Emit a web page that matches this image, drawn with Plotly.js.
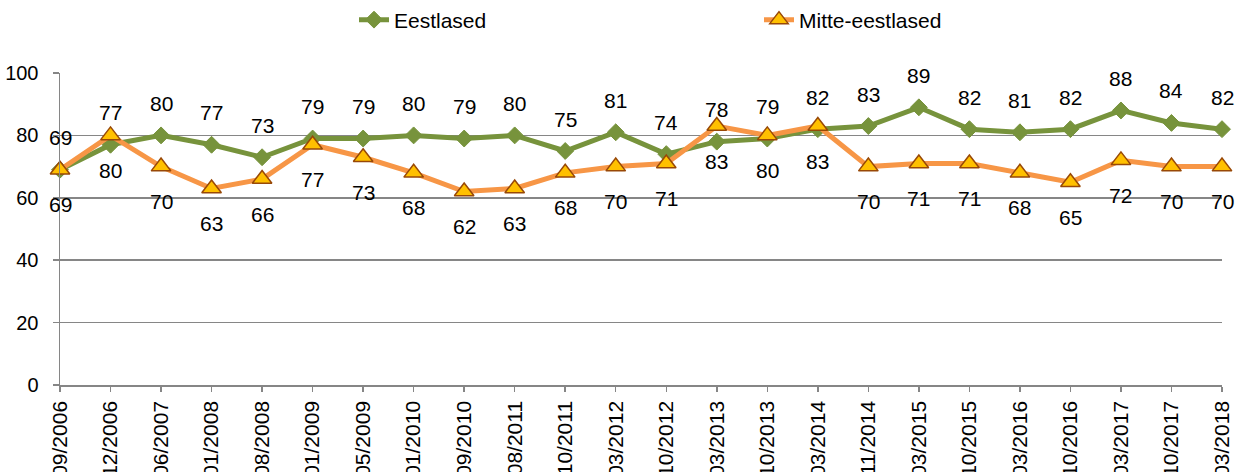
<!DOCTYPE html>
<html>
<head>
<meta charset="utf-8">
<script src="https://cdn.plot.ly/plotly-3.0.1.min.js"></script>
<style>
html,body{margin:0;padding:0;background:#fff;}
#chart{width:1237px;height:472px;}
</style>
</head>
<body>
<div id="chart"></div>
<script>
const categories = ["09/2006","12/2006","06/2007","01/2008","08/2008","01/2009","05/2009","01/2010","09/2010","08/2011","10/2011","03/2012","10/2012","03/2013","10/2013","03/2014","11/2014","03/2015","10/2015","03/2016","10/2016","03/2017","10/2017","03/2018"];
const eestlased = [69,77,80,77,73,79,79,80,79,80,75,81,74,78,79,82,83,89,82,81,82,88,84,82];
const mitteEestlased = [69,80,70,63,66,77,73,68,62,63,68,70,71,83,80,83,70,71,71,68,65,72,70,70];
const yTicks = [0,20,40,60,80,100];

const FONT = "Liberation Sans, Arial, sans-serif";
const GREEN = "#77933C";
const ORANGE = "#F79646";
const GRID = "#868686";

const traces = [
  {
    x: categories, y: eestlased, name: "Eestlased", type: "scatter", mode: "lines+markers",
    line: {color: GREEN, width: 5},
    marker: {symbol: "diamond", size: 13, color: GREEN, line: {color: GREEN, width: 1}},
    cliponaxis: false, hoverinfo: "skip"
  },
  {
    x: categories, y: mitteEestlased, name: "Mitte-eestlased", type: "scatter", mode: "lines+markers",
    line: {color: ORANGE, width: 5},
    marker: {symbol: "triangle-up", size: 17, color: "#FFC000", line: {color: "#984807", width: 1.5}},
    cliponaxis: false, hoverinfo: "skip"
  }
];

const annotations = [];
eestlased.forEach((v, i) => annotations.push({
  x: categories[i], y: v, xref: "x", yref: "y", text: String(v), showarrow: false,
  yshift: 32, font: {family: FONT, size: 21, color: "#000"}
}));
mitteEestlased.forEach((v, i) => annotations.push({
  x: categories[i], y: v, xref: "x", yref: "y", text: String(v), showarrow: false,
  yshift: -35, font: {family: FONT, size: 21, color: "#000"}
}));

const layout = {
  width: 1237, height: 472,
  margin: {l: 60, r: 15, t: 73, b: 87, pad: 0},
  paper_bgcolor: "#fff", plot_bgcolor: "#fff",
  font: {family: FONT, size: 20, color: "#000"},
  showlegend: true,
  legend: {
    orientation: "h", xref: "container", yref: "container",
    x: 354/1237, y: 1 - 20/472, xanchor: "left", yanchor: "middle",
    entrywidth: 360, entrywidthmode: "pixels",
    font: {family: FONT, size: 21, color: "#000"},
    bgcolor: "rgba(0,0,0,0)", borderwidth: 0
  },
  xaxis: {
    type: "category", range: [0, categories.length - 1],
    showgrid: false, zeroline: false,
    showline: true, linecolor: GRID, linewidth: 1.5,
    ticks: "outside", ticklen: 5, tickcolor: GRID, tickwidth: 1.5,
    ticklabelstandoff: 1,
    tickangle: -90, tickfont: {family: FONT, size: 21, color: "#000"},
    automargin: false, fixedrange: true
  },
  yaxis: {
    range: [0, 100], tickvals: yTicks, ticktext: yTicks.map(String),
    showgrid: true, gridcolor: GRID, gridwidth: 1.5, zeroline: false,
    showline: true, linecolor: GRID, linewidth: 1.5,
    ticks: "outside", ticklen: 6, tickcolor: GRID, tickwidth: 1.5,
    ticklabelstandoff: 10,
    tickfont: {family: FONT, size: 20, color: "#000"},
    automargin: false, fixedrange: true
  },
  annotations: annotations
};

Plotly.newPlot("chart", traces, layout, {displayModeBar: false, staticPlot: true});
</script>
</body>
</html>
